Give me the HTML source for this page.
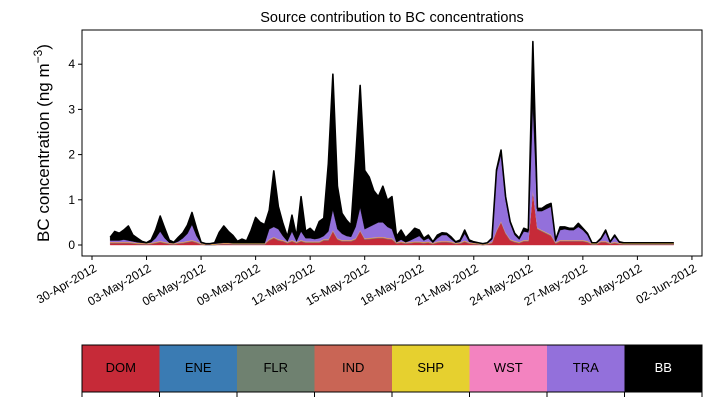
<!DOCTYPE html>
<html><head><meta charset="utf-8"><style>
body{margin:0;background:#fff;font-family:"Liberation Sans",sans-serif;}
svg text{font-family:"Liberation Sans",sans-serif;}
</style></head><body>
<svg id="c" width="711" height="402" xmlns="http://www.w3.org/2000/svg">
<text x="392" y="22" font-size="14.5" text-anchor="middle">Source contribution to BC concentrations</text>
<text transform="translate(49,143) rotate(-90)" font-size="17" text-anchor="middle">BC concentration (ng m<tspan baseline-shift="super" font-size="12">−3</tspan>)</text>
<g id="plot"></g>
<g id="legend"></g>
</svg>
<script>
const sources = ["DOM","ENE","FLR","IND","SHP","WST","TRA","BB"];
const colors = ["#c62a38","#3a7bb3","#6f8170","#c96555","#e6d02f","#f383c0","#9370db","#000000"];
const DOM = [.04,.04,.04,.04,.04,.03,.02,.02,.01,.02,.04,.06,.04,.02,.01,.03,.04,.06,.08,.05,.01,0,0,0,.01,.02,.02,.01,.01,.01,.01,.01,.01,.01,.01,.1,.15,.1,.08,.04,.08,.04,.08,.05,.05,.05,.05,.1,.1,.3,.12,.08,.08,.08,.12,.3,.12,.13,.14,.15,.15,.13,.12,.03,.05,.03,.04,.05,.05,.04,.05,.02,.05,.06,.06,.05,.02,.03,.07,.03,.02,.01,0,.01,.04,.3,.5,.25,.1,.06,.04,.08,.08,1.2,.35,.3,.25,.2,.03,.08,.08,.08,.08,.08,.08,.06,.01,.01,.06,.06,.02,.04,.02,.01,.01,.01,.01,.01,.01,.01,.01,.01,.01,.01,.01];
const ENE = new Array(125).fill(0.003);
const FLR = new Array(125).fill(0.003);
const IND = new Array(125).fill(0.012);
const SHP = new Array(125).fill(0.008);
const WST = new Array(125).fill(0.004);
const TRA = [.03,.03,.03,.05,.03,.02,.01,0,0,.01,.08,.21,.08,0,0,.02,.08,.16,.34,.12,0,0,0,0,0,0,0,0,0,0,0,0,0,0,0,.22,.22,.22,.09,.01,.19,.01,.19,.07,.07,.05,.07,.07,.17,.45,.2,.14,.09,.07,.25,.5,.2,.24,.28,.32,.32,.24,.2,0,.04,0,.03,.07,.12,.03,.07,0,.07,.13,.13,.05,0,.01,.15,.01,0,0,0,0,.05,1.27,1.47,.72,.35,.13,.05,.19,.17,1.87,.37,.42,.52,.62,.02,.22,.24,.22,.22,.29,.22,.13,0,0,.03,.19,0,.11,0,0,0,0,0,0,0,0,0,0,0,0,0];
const BB = [.07,.2,.16,.21,.32,.14,.09,.03,.01,.05,.18,.34,.22,.06,.02,.09,.12,.19,.27,.17,.02,0,0,.02,.24,.37,.25,.17,.04,.09,.05,.28,.57,.46,.41,.42,1.24,.5,.28,.1,.36,.1,.77,.15,.22,.14,.37,.39,1.5,3.0,.95,.45,.35,.26,1.5,2.7,1.3,1.1,.75,.57,.8,.59,.72,.13,.21,.1,.16,.22,.13,.05,.07,.02,.07,.05,.04,.05,.02,.04,.08,.04,.02,.01,0,.01,.03,.06,.1,.07,.04,.04,.03,.07,.05,1.4,.06,.06,.08,.07,.03,.07,.05,.04,.04,.08,.04,.04,.01,.01,.03,.05,.02,.04,.02,.01,.01,.01,.01,.01,.01,.01,.01,.01,.01,.01,.01,.01];
const series = [DOM,ENE,FLR,IND,SHP,WST,TRA,BB];
const xTickLabels = ["30-Apr-2012","03-May-2012","06-May-2012","09-May-2012","12-May-2012","15-May-2012","18-May-2012","21-May-2012","24-May-2012","27-May-2012","30-May-2012","02-Jun-2012"];
const yTicks = [0,1,2,3,4];
const startDay = 1, stepDay = 0.25;

const NS="http://www.w3.org/2000/svg";
const X0=82,X1=702,Y0=30,Y1=256;
const xs = d => 92 + d*18.18;
const ys = v => 245 - v*45.2;
function mk(tag,attrs,parent){const e=document.createElementNS(NS,tag);for(const k in attrs)e.setAttribute(k,attrs[k]);parent.appendChild(e);return e;}
const plot=document.getElementById('plot');
const n=DOM.length;
let cum=new Array(n).fill(0);
series.forEach((s,k)=>{
  const lower=cum.slice(); const upper=cum.map((c,i)=>c+s[i]);
  let pts=[];
  for(let i=0;i<n;i++)pts.push(xs(startDay+i*stepDay).toFixed(2)+","+ys(upper[i]).toFixed(2));
  for(let i=n-1;i>=0;i--)pts.push(xs(startDay+i*stepDay).toFixed(2)+","+ys(lower[i]).toFixed(2));
  const p=mk('polygon',{points:pts.join(" "),fill:colors[k],stroke:colors[k],'stroke-width':0.4},plot);
  
  
  cum=upper;
});
let topPts=[];for(let i=0;i<n;i++)topPts.push(xs(startDay+i*stepDay).toFixed(2)+","+ys(cum[i]).toFixed(2));
const ol=mk('polyline',{points:topPts.join(" "),fill:"none",stroke:"#000",'stroke-width':1.6,'stroke-linejoin':'round'},plot);


const fr=mk('rect',{x:X0,y:Y0,width:X1-X0,height:Y1-Y0,fill:"none",stroke:"#000",'stroke-width':1},plot);


yTicks.forEach(v=>{
  const y=ys(v);
  mk('line',{x1:X0-4,x2:X0,y1:y,y2:y,stroke:"#000"},plot);
  const t=mk('text',{x:X0-7,y:y+4,'font-size':12,'text-anchor':'end'},plot);
  t.textContent=v;
  
  
});
xTickLabels.forEach((lab,j)=>{
  const x=xs(j*3);
  mk('line',{x1:x,x2:x,y1:Y1,y2:Y1+4,stroke:"#000"},plot);
  const ax=x+1, ay=Y1+7;
  const t=mk('text',{x:ax,y:ay,'font-size':12,'text-anchor':'end','dominant-baseline':'hanging',transform:`rotate(-30 ${ax} ${ay})`},plot);
  t.textContent=lab;
  
  
});
const lg=document.getElementById('legend');
const LW=(702-82)/8;
sources.forEach((s,k)=>{
  const x=82+k*LW;
  const r=mk('rect',{x:x,y:345,width:LW,height:47,fill:colors[k]},lg);
  
  
  const t=mk('text',{x:x+LW/2,y:372,'font-size':13,'text-anchor':'middle',fill:k==7?'#fff':'#000'},lg);
  t.textContent=s;
  
  
});
mk('rect',{x:82,y:345,width:620,height:47,fill:"none",stroke:"#000"},lg);
for(let k=0;k<=8;k++){const x=82+k*LW;mk('line',{x1:x,x2:x,y1:392,y2:397,stroke:"#000"},lg);}
</script>
</body></html>
